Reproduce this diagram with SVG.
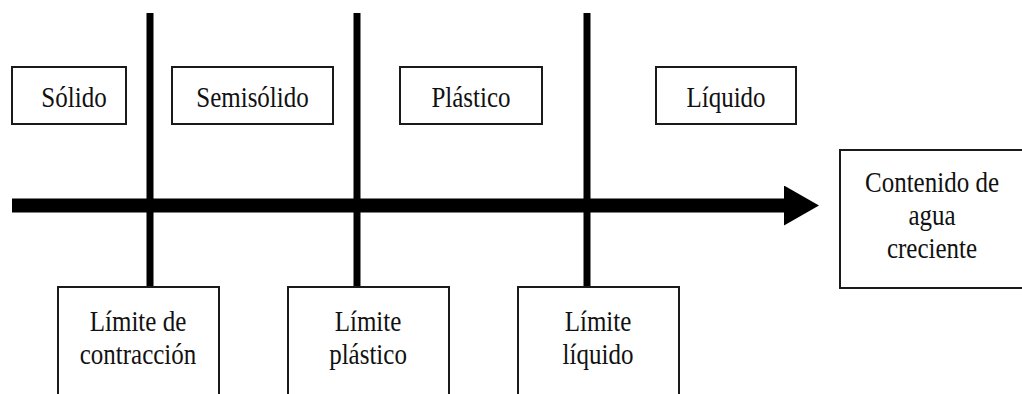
<svg xmlns="http://www.w3.org/2000/svg" width="1022" height="394" viewBox="0 0 1022 394">
<style>
.box{fill:#fff;stroke:#1a1a1a;stroke-width:2}
.lbl{font-family:"Liberation Serif","Times New Roman","DejaVu Serif",serif;font-size:25px;fill:#111;text-anchor:middle}
.bar{stroke:#000;stroke-width:7;fill:none}
</style>
<defs>
<marker id="ah" markerUnits="userSpaceOnUse" markerWidth="36" markerHeight="40" refX="0" refY="20" orient="auto">
<path d="M0,0 L35,20 L0,40 Z" fill="#000"/>
</marker>
</defs>
<rect width="1022" height="394" fill="#fff"/>
<g id="connectors">
<line class="bar" x1="150" y1="13" x2="150" y2="288"/>
<line class="bar" x1="357" y1="13" x2="357" y2="288"/>
<line class="bar" x1="587" y1="13" x2="587" y2="288"/>
<line x1="12" y1="205.5" x2="784" y2="205.5" stroke="#000" stroke-width="14" marker-end="url(#ah)"/>
</g>
<g id="solido"><rect class="box" x="12" y="67" width="114" height="57"/><text class="lbl" transform="translate(74,107) scale(1,1.15)">Sólido</text></g>
<g id="semisolido"><rect class="box" x="172" y="67" width="161" height="57"/><text class="lbl" transform="translate(252.5,107) scale(1,1.15)">Semisólido</text></g>
<g id="plastico"><rect class="box" x="400" y="67" width="142" height="57"/><text class="lbl" transform="translate(471,107) scale(1,1.15)">Plástico</text></g>
<g id="liquido"><rect class="box" x="656" y="67" width="140" height="57"/><text class="lbl" transform="translate(726,107) scale(1,1.15)">Líquido</text></g>
<g id="contenido"><rect class="box" x="840" y="150" width="190" height="138"/><text class="lbl" transform="translate(932,192) scale(1,1.15)">Contenido de<tspan x="0" dy="28.7">agua</tspan><tspan x="0" dy="28.7">creciente</tspan></text></g>
<g id="limite-contraccion"><rect class="box" x="58" y="287" width="161" height="120"/><text class="lbl" transform="translate(138,331) scale(1,1.15)">Límite de<tspan x="0" dy="28.7">contracción</tspan></text></g>
<g id="limite-plastico"><rect class="box" x="288" y="287" width="161" height="120"/><text class="lbl" transform="translate(368,331) scale(1,1.15)">Límite<tspan x="0" dy="28.7">plástico</tspan></text></g>
<g id="limite-liquido"><rect class="box" x="518" y="287" width="161" height="120"/><text class="lbl" transform="translate(598,331) scale(1,1.15)">Límite<tspan x="0" dy="28.7">líquido</tspan></text></g>
</svg>
